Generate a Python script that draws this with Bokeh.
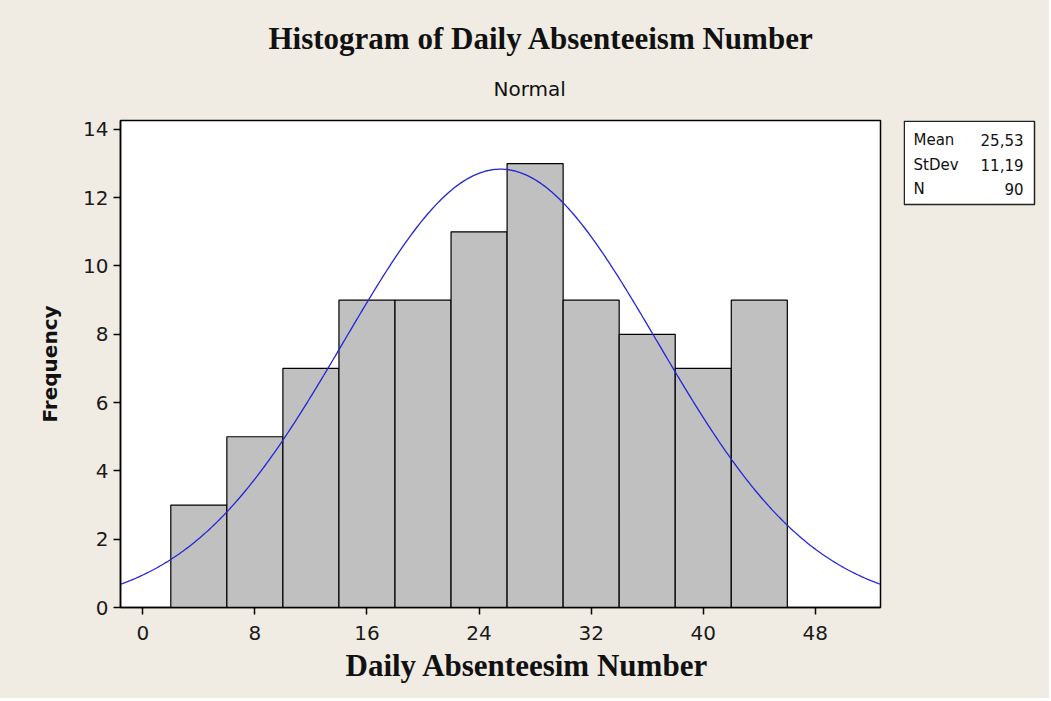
import math
from bokeh.plotting import figure
from bokeh.models import Range1d, FixedTicker, Title, ColumnDataSource
from bokeh.layouts import row
from bokeh.core.properties import value
from bokeh.embed import file_html
from bokeh.resources import INLINE

# ---- data ----
bin_centers = [4, 8, 12, 16, 20, 24, 28, 32, 36, 40, 44]
frequencies = [3, 5, 7, 9, 9, 11, 13, 9, 8, 7, 9]
bin_width = 4
fit_mean = 25.53
fit_stdev = 11.19
n_obs = 90
x_ticks = [0, 8, 16, 24, 32, 40, 48]
y_ticks = [0, 2, 4, 6, 8, 10, 12, 14]
legend_names = ["Mean", "StDev", "N"]
legend_values = ["25,53", "11,19", "90"]

BG = "#F0ECE3"
SANS = "DejaVu Sans"
SERIF = "Liberation Serif"
H = 698
FRAME_TOP = 120
FRAME_BOTTOM = 607

p = figure(width=903, height=H, output_backend="svg", toolbar_location=None,
           x_range=Range1d(-1.59, 52.65), y_range=Range1d(0, 14.26),
           min_border_left=120, min_border_right=23, min_border_top=FRAME_TOP,
           min_border_bottom=H - FRAME_BOTTOM, title=None)
p.border_fill_color = BG
p.background_fill_color = "white"
p.outline_line_color = "black"
p.outline_line_width = 1.5
p.xgrid.visible = False
p.ygrid.visible = False

for ax, ticks in ((p.xaxis, x_ticks), (p.yaxis, y_ticks)):
    ax.ticker = FixedTicker(ticks=ticks)
    ax.minor_tick_line_color = None
    ax.major_tick_in = 0
    ax.major_tick_out = 7
    ax.major_tick_line_color = "black"
    ax.major_tick_line_width = 1.5
    ax.axis_line_color = "black"
    ax.axis_line_width = 1.5
    ax.major_label_text_font = SANS
    ax.major_label_text_font_size = "20px"
    ax.major_label_text_color = "#1a1a1a"
p.xaxis.major_label_standoff = 11
p.yaxis.major_label_standoff = 5
p.yaxis.axis_label = "Frequency"
p.yaxis.axis_label_text_font = SANS
p.yaxis.axis_label_text_font_size = "20px"
p.yaxis.axis_label_text_font_style = "bold"
p.yaxis.axis_label_text_color = "#111111"
p.yaxis.axis_label_standoff = 18

# titles
p.add_layout(Title(text="Normal", align="left", offset=373, text_font=SANS,
                   text_font_size="20px", text_font_style="normal",
                   text_color="#111111", standoff=39), "above")
p.add_layout(Title(text="Histogram of Daily Absenteeism Number", align="left", offset=148,
                   text_font=SERIF, text_font_size="31px", text_font_style="bold",
                   text_color="#111111", standoff=0), "above")
p.add_layout(Title(text="Daily Absenteesim Number", align="left", offset=225,
                   text_font=SERIF, text_font_size="31px", text_font_style="bold",
                   text_color="#111111", standoff=7), "below")

# bars
src = ColumnDataSource(dict(x=bin_centers, top=frequencies))
p.vbar(x="x", top="top", width=bin_width, bottom=0, source=src,
       fill_color="#C0C0C0", line_color="black", line_width=1.2)

# fitted normal curve from the legend parameters
xs = [p.x_range.start + i * (p.x_range.end - p.x_range.start) / 400 for i in range(401)]
scale = n_obs * bin_width / (fit_stdev * math.sqrt(2 * math.pi))
ys = [scale * math.exp(-0.5 * ((x - fit_mean) / fit_stdev) ** 2) for x in xs]
p.line(xs, ys, line_color="#2424D8", line_width=1.3)

# legend box as a small companion figure (frame aligned with the main frame, pixel ranges)
lw = 1049 - 903
q = figure(width=lw, height=H, output_backend="svg", toolbar_location=None,
           x_range=Range1d(0, lw), y_range=Range1d(FRAME_BOTTOM - FRAME_TOP, 0),
           x_axis_type=None, y_axis_type=None,
           min_border_left=0, min_border_right=0, min_border_top=FRAME_TOP,
           min_border_bottom=H - FRAME_BOTTOM, title=None)
q.border_fill_color = BG
q.background_fill_color = BG
q.outline_line_color = None
q.quad(left=[0.75], right=[131], top=[0.75], bottom=[84], fill_color="white",
       line_color="#222222", line_width=1.5)
row_y = [19, 44, 68]
q.text(x=[10] * 3, y=row_y, text=legend_names, text_font=value(SANS),
       text_font_size="15px", text_align="left", text_baseline="middle",
       text_color="#111111")
q.text(x=[120] * 3, y=row_y, text=legend_values, text_font=value(SANS),
       text_font_size="15px", text_align="right", text_baseline="middle",
       text_color="#111111")

layout = row(p, q, spacing=0, styles={"background-color": BG})
open("out.html", "w").write(file_html(layout, INLINE))
